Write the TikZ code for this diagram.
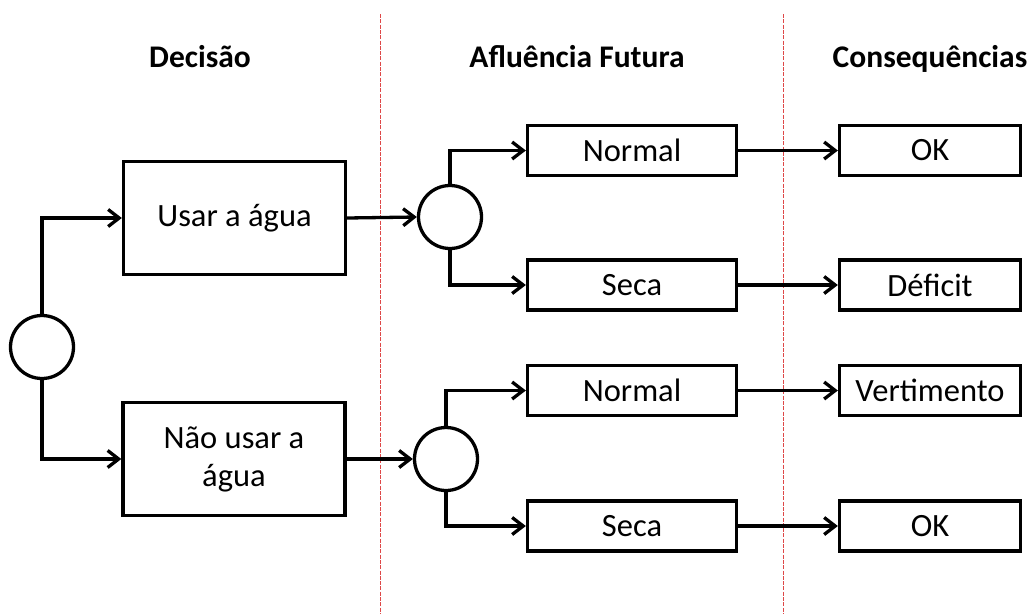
\documentclass[tikz,border=0pt]{standalone}
\usepackage{fontspec}
\setmainfont{Carlito}
\usetikzlibrary{arrows.meta}
\definecolor{divisa}{RGB}{222,72,72}

\begin{document}
\begin{tikzpicture}[x=1pt,y=-1pt,
        every node/.style={font=\fontsize{32.5}{38}\selectfont},
        titulo/.style={font=\fontsize{31.5}{38}\selectfont\bfseries, anchor=base},
        decbox/.style={draw, line width=3.3pt, minimum width=222pt, minimum height=113pt, inner sep=0pt, align=center},
        midbox/.style={draw, line width=3.3pt, minimum width=209pt, minimum height=50pt, inner sep=0pt},
        endbox/.style={draw, line width=3.3pt, minimum width=181pt, minimum height=50pt, inner sep=0pt},
        chance/.style={draw, circle, line width=3.3pt, minimum size=63pt, inner sep=0pt},
        seta/.style={line width=3.3pt, -{Straight Barb[length=11pt,width=17pt]}}]

            \useasboundingbox (0,0) rectangle (1032,614);

            % divisoes
            \draw[divisa, line width=1pt, dash pattern=on 4pt off 1.3pt] (380,14) -- (380,614);
            \draw[divisa, line width=1pt, dash pattern=on 4pt off 1.3pt] (783,14) -- (783,614);

            \node[titulo] (tdec) at (200,67) {Decisão};
            \node[titulo] (tafl) at (577,67) {Afluência Futura};
            \node[titulo] (tcon) at (930,67) {Consequências};

            \node[chance] (c0) at (42,347) {};
            \node[decbox] (usar) at (234.5,218) {Usar a água};
            \node[decbox] (naousar) at (234,459) {Não usar a\\água};

            \node[chance] (c1) at (450,217) {};
            \node[chance] (c2) at (446,459) {};

            \node[midbox] (normal1) at (632,150.5) {Normal};
            \node[midbox] (seca1) at (632,285) {Seca};
            \node[midbox] (normal2) at (632,390.5) {Normal};
            \node[midbox] (seca2) at (632,526) {Seca};

            \node[endbox] (ok1) at (930,150.5) {OK};
            \node[endbox] (deficit) at (930,285) {Déficit};
            \node[endbox] (vert) at (930,390.5) {Vertimento};
            \node[endbox] (ok2) at (930,526) {OK};

            \draw[seta] (c0.north) |- (usar.west);
            \draw[seta] (c0.south) |- (naousar.west);
            \draw[seta] (usar.east) -- (c1.west);
            \draw[seta] (naousar.east) -- (c2.west);

            \draw[seta] (c1.north) |- (normal1.west);
            \draw[seta] (c1.south) |- (seca1.west);
            \draw[seta] (c2.north) |- (normal2.west);
            \draw[seta] (c2.south) |- (seca2.west);

            \draw[seta] (normal1.east) -- (ok1.west);
            \draw[seta] (seca1.east) -- (deficit.west);
            \draw[seta] (normal2.east) -- (vert.west);
            \draw[seta] (seca2.east) -- (ok2.west);

        \end{tikzpicture}
\end{document}
